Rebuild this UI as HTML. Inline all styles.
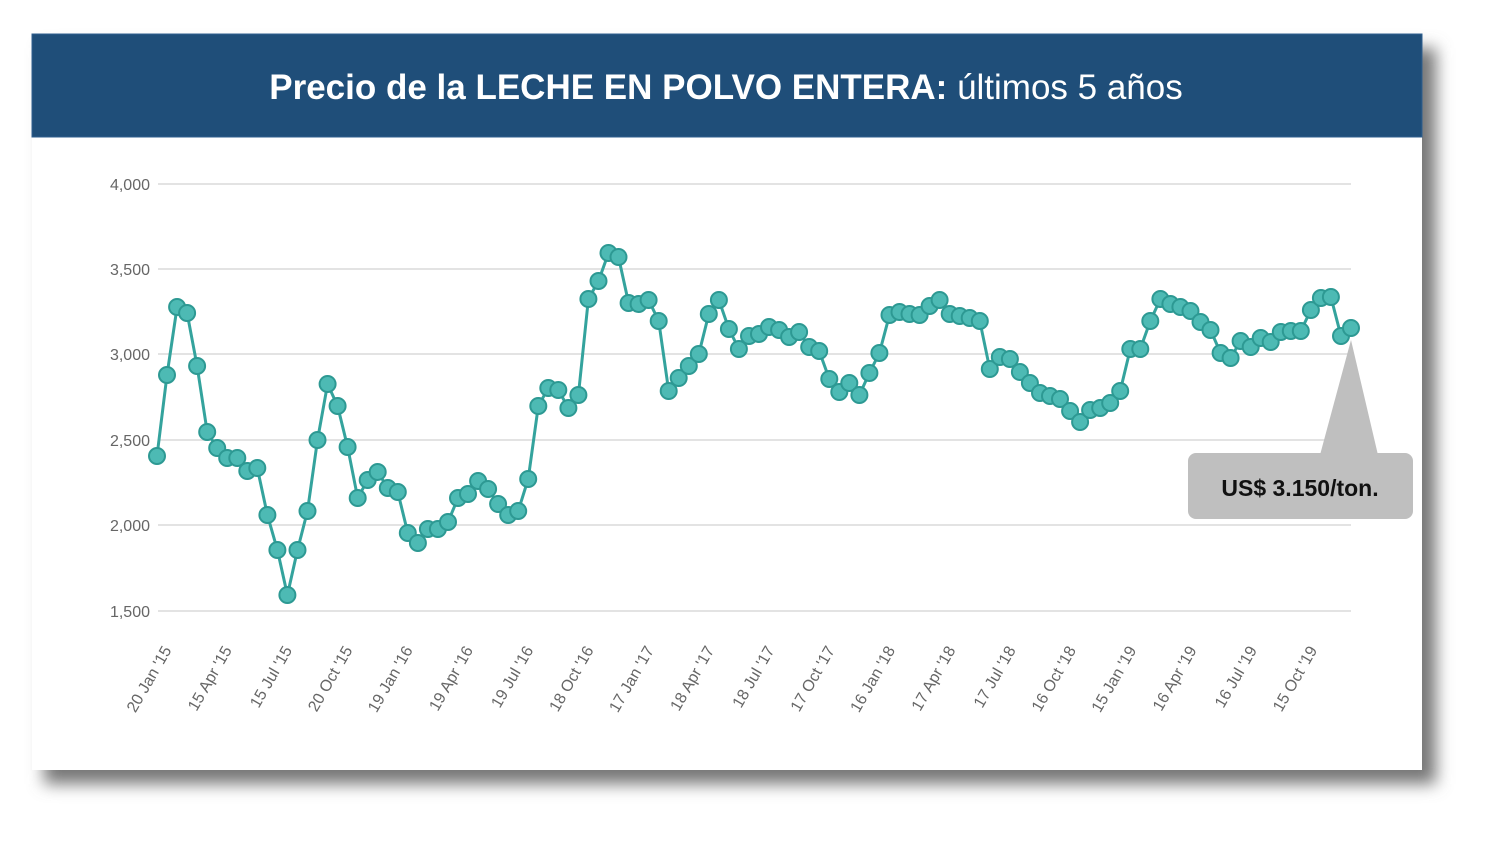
<!DOCTYPE html>
<html><head><meta charset="utf-8"><style>
body{margin:0;background:#fff;width:1487px;height:836px;overflow:hidden;font-family:"Liberation Sans",sans-serif}
</style></head><body>
<svg width="1487" height="836" xmlns="http://www.w3.org/2000/svg">
<defs>
<filter id="sh" x="-5%" y="-5%" width="115%" height="125%"><feGaussianBlur stdDeviation="8"/></filter>
<marker id="dot" markerUnits="userSpaceOnUse" markerWidth="22" markerHeight="22" refX="11" refY="11" viewBox="0 0 22 22"><circle cx="11" cy="11" r="8" fill="#4dbab4" stroke="#2d9993" stroke-width="2"/></marker>
</defs>
<rect x="44" y="48" width="1392" height="736" fill="#777" filter="url(#sh)"/>
<rect x="32" y="34" width="1390" height="736" fill="#fff"/>
<rect x="32" y="34" width="1390" height="103" fill="#1f4e79" stroke="#2f5f8f"/>
<text x="726" y="99" fill="#fff" font-size="35" text-anchor="middle"><tspan font-weight="bold">Precio de la LECHE EN POLVO ENTERA:</tspan> últimos 5 años</text>
<g stroke="#e3e3e3" stroke-width="2">
<line x1="158" y1="184" x2="1351" y2="184"/><line x1="158" y1="269" x2="1351" y2="269"/><line x1="158" y1="354" x2="1351" y2="354"/><line x1="158" y1="440" x2="1351" y2="440"/><line x1="158" y1="525" x2="1351" y2="525"/><line x1="158" y1="611" x2="1351" y2="611"/>
</g>
<g fill="#666" font-size="16" text-anchor="end">
<text x="150" y="190">4,000</text><text x="150" y="275">3,500</text><text x="150" y="360">3,000</text><text x="150" y="446">2,500</text><text x="150" y="531">2,000</text><text x="150" y="617">1,500</text>
</g>
<g fill="#666" font-size="16" text-anchor="end">
<text transform="translate(172,650) rotate(-60)">20 Jan '15</text>
<text transform="translate(232.3,650) rotate(-60)">15 Apr '15</text>
<text transform="translate(292.6,650) rotate(-60)">15 Jul '15</text>
<text transform="translate(352.9,650) rotate(-60)">20 Oct '15</text>
<text transform="translate(413.2,650) rotate(-60)">19 Jan '16</text>
<text transform="translate(473.5,650) rotate(-60)">19 Apr '16</text>
<text transform="translate(533.8,650) rotate(-60)">19 Jul '16</text>
<text transform="translate(594.1,650) rotate(-60)">18 Oct '16</text>
<text transform="translate(654.4,650) rotate(-60)">17 Jan '17</text>
<text transform="translate(714.7,650) rotate(-60)">18 Apr '17</text>
<text transform="translate(775,650) rotate(-60)">18 Jul '17</text>
<text transform="translate(835.3,650) rotate(-60)">17 Oct '17</text>
<text transform="translate(895.6,650) rotate(-60)">16 Jan '18</text>
<text transform="translate(955.9,650) rotate(-60)">17 Apr '18</text>
<text transform="translate(1016.2,650) rotate(-60)">17 Jul '18</text>
<text transform="translate(1076.5,650) rotate(-60)">16 Oct '18</text>
<text transform="translate(1136.8,650) rotate(-60)">15 Jan '19</text>
<text transform="translate(1197.1,650) rotate(-60)">16 Apr '19</text>
<text transform="translate(1257.4,650) rotate(-60)">16 Jul '19</text>
<text transform="translate(1317.7,650) rotate(-60)">15 Oct '19</text>
</g>
<polyline fill="none" stroke="#34a39d" stroke-width="3" marker-start="url(#dot)" marker-mid="url(#dot)" marker-end="url(#dot)" points="157,456 167,375 177.1,307 187.1,313 197.1,366 207.2,432 217.2,448 227.2,458 237.3,458 247.3,471 257.3,468 267.4,515 277.4,550 287.4,595 297.5,550 307.5,511 317.5,440 327.6,384 337.6,406 347.6,447 357.7,498 367.7,480 377.7,472 387.8,488 397.8,492 407.8,533 417.9,543 427.9,529 437.9,529 448,522 458,498 468,494 478.1,481 488.1,489 498.1,504 508.2,515 518.2,511 528.2,479 538.3,406 548.3,388 558.3,390 568.4,408 578.4,395 588.4,299 598.5,281 608.5,253 618.5,257 628.6,303 638.6,304 648.6,300 658.7,321 668.7,391 678.7,378 688.8,366 698.8,354 708.8,314 718.9,300 728.9,329 738.9,349 749,336 759,334 769,327 779.1,330 789.1,337 799.1,332 809.2,347 819.2,351 829.3,379 839.3,392 849.3,383 859.4,395 869.4,373 879.4,353 889.5,315 899.5,312 909.5,314 919.6,315 929.6,306 939.6,300 949.7,314 959.7,316 969.7,318 979.8,321 989.8,369 999.8,357 1009.9,359 1019.9,372 1029.9,383 1040,393 1050,396 1060,399 1070.1,411 1080.1,422 1090.1,410 1100.2,408 1110.2,403 1120.2,391 1130.3,349 1140.3,349 1150.3,321 1160.4,299 1170.4,304 1180.4,307 1190.5,311 1200.5,322 1210.5,330 1220.6,353 1230.6,358 1240.6,341 1250.7,347 1260.7,338 1270.7,342 1280.8,332 1290.8,331 1300.8,331 1310.9,310 1320.9,298 1330.9,297 1341,336 1351,328"/>
<polygon points="1351,340 1320,455 1378,455" fill="#bfbfbf"/>
<rect x="1188" y="453" width="225" height="66" rx="8" fill="#bfbfbf"/>
<text x="1300" y="496" font-size="23" font-weight="bold" fill="#111" text-anchor="middle">US$ 3.150/ton.</text>
</svg>
</body></html>
